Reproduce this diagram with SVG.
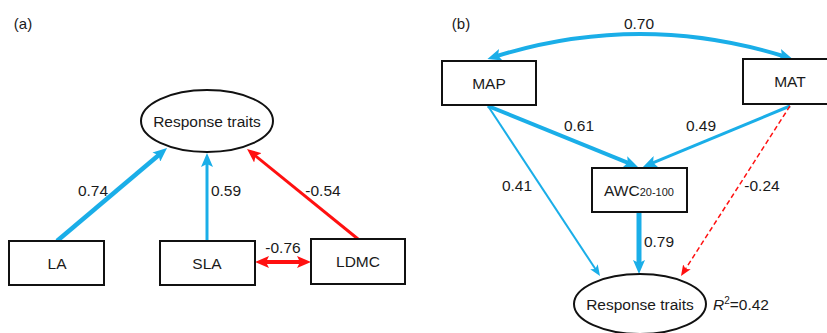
<svg xmlns="http://www.w3.org/2000/svg" width="827" height="333" viewBox="0 0 827 333">
<style>
text{font-family:"Liberation Sans",Arial,sans-serif;font-size:15.5px;fill:#1a1a1a;text-anchor:middle}
.box{fill:#fff;stroke:#111;stroke-width:2}
.blue{stroke:#1aaee8;fill:none}
.red{stroke:#ff1010;fill:none}
.lbl{text-anchor:start}
</style>
<defs>
<marker id="hb" viewBox="0 0 14 12" markerWidth="14" markerHeight="12" refX="4" refY="6" orient="auto-start-reverse" markerUnits="userSpaceOnUse"><path d="M0,0L14,6L0,12L3,6Z" fill="#1aaee8"/></marker>
<marker id="hr" viewBox="0 0 14 12" markerWidth="14" markerHeight="12" refX="4" refY="6" orient="auto-start-reverse" markerUnits="userSpaceOnUse"><path d="M0,0L14,6L0,12L3,6Z" fill="#ff1010"/></marker>
<marker id="hbs" viewBox="0 0 11 9" markerWidth="11" markerHeight="9" refX="3" refY="4.5" orient="auto" markerUnits="userSpaceOnUse"><path d="M0,0L11,4.5L0,9L2.5,4.5Z" fill="#1aaee8"/></marker>
<marker id="hrs" viewBox="0 0 11 9" markerWidth="11" markerHeight="9" refX="3" refY="4.5" orient="auto" markerUnits="userSpaceOnUse"><path d="M0,0L11,4.5L0,9L2.5,4.5Z" fill="#ff1010"/></marker>
</defs>
<text x="23" y="29" style="font-size:15px">(a)</text>
<text x="461" y="29" style="font-size:15px">(b)</text>
<g id="connectors">
<line class="blue" x1="57" y1="241" x2="159.4" y2="154.5" stroke-width="4.5" marker-end="url(#hb)"/>
<line class="blue" x1="207" y1="241" x2="207" y2="163" stroke-width="3" marker-end="url(#hb)"/>
<line class="red" x1="358" y1="239" x2="254.8" y2="155.3" stroke-width="3" marker-end="url(#hr)"/>
<line class="red" x1="265" y1="262" x2="301" y2="262" stroke-width="4" marker-start="url(#hr)" marker-end="url(#hr)"/>
<path class="blue" d="M497,56 Q640,12 783,56" stroke-width="4" marker-start="url(#hb)" marker-end="url(#hb)"/>
<line class="blue" x1="488" y1="106" x2="628.7" y2="163.2" stroke-width="4" marker-end="url(#hb)"/>
<line class="blue" x1="790" y1="106" x2="652.2" y2="163.2" stroke-width="3" marker-end="url(#hb)"/>
<line class="blue" x1="488" y1="106" x2="595.6" y2="269.3" stroke-width="2" marker-end="url(#hbs)"/>
<line class="blue" x1="639" y1="212" x2="639" y2="264" stroke-width="5" marker-end="url(#hb)"/>
<line class="red" x1="790" y1="106" x2="685.3" y2="269.3" stroke-width="1.5" stroke-dasharray="5,3" marker-end="url(#hrs)"/>
<text x="93" y="196">0.74</text>
<text x="226" y="196">0.59</text>
<text x="323" y="196">-0.54</text>
<text x="283" y="253">-0.76</text>
<text x="639" y="29">0.70</text>
<text x="579" y="131">0.61</text>
<text x="701" y="131">0.49</text>
<text x="517" y="191">0.41</text>
<text x="762" y="191">-0.24</text>
<text x="659" y="247">0.79</text>
</g>
<g id="rt-a"><ellipse cx="207" cy="121" rx="66" ry="31" class="box"/><text x="207" y="126.5">Response traits</text></g>
<g id="la"><rect x="9" y="241" width="95" height="44" class="box"/><text x="57" y="268.5">LA</text></g>
<g id="sla"><rect x="160" y="241" width="95" height="44" class="box"/><text x="207" y="268.5">SLA</text></g>
<g id="ldmc"><rect x="311" y="239" width="94" height="45" class="box"/><text x="358" y="267">LDMC</text></g>
<g id="map"><rect x="442" y="61" width="94" height="44" class="box"/><text x="489" y="88.5">MAP</text></g>
<g id="mat"><rect x="743" y="59" width="95" height="45" class="box"/><text x="790" y="87">MAT</text></g>
<g id="awc"><rect x="592" y="168" width="95" height="44" class="box"/><text x="639" y="196">AWC<tspan style="font-size:11px">20-100</tspan></text></g>
<g id="rt-b"><ellipse cx="640" cy="304" rx="66" ry="30" class="box"/><text x="640" y="309.5">Response traits</text><text x="713" y="309.5" class="lbl"><tspan font-style="italic">R</tspan><tspan style="font-size:10px" dy="-6">2</tspan><tspan dy="6">=0.42</tspan></text></g>
</svg>
